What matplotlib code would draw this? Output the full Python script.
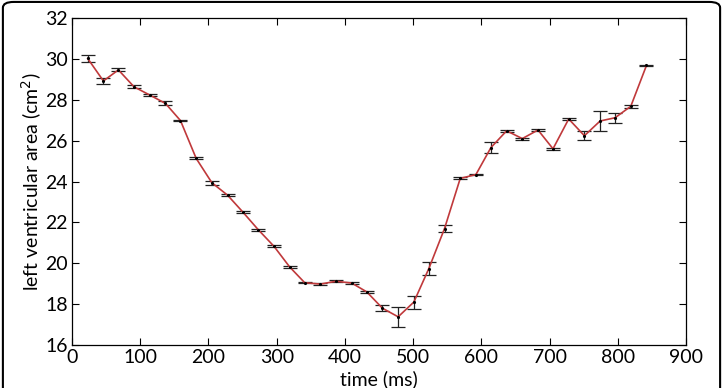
import matplotlib.pyplot as plt
from matplotlib.patches import FancyBboxPatch

# =========================
# Data
# =========================
time_ms = [23, 46, 68, 91, 114, 137, 159, 182, 205, 228, 250, 273, 296,
           319, 341, 364, 387, 410, 432, 455, 478, 501, 523, 546, 569,
           592, 614, 637, 660, 683, 705, 728, 751, 774, 796, 819, 842]
area = [30.02, 28.92, 29.46, 28.63, 28.23, 27.82, 26.98, 25.13, 23.94,
        23.33, 22.52, 21.64, 20.83, 19.82, 19.05, 18.98, 19.12, 19.03,
        18.6, 17.8, 17.38, 18.1, 19.74, 21.7, 24.15, 24.34, 25.66,
        26.48, 26.1, 26.52, 25.6, 27.06, 26.24, 26.96, 27.12, 27.68, 29.68]
err = [0.16, 0.15, 0.07, 0.07, 0.05, 0.1, 0.04, 0.05, 0.1, 0.05, 0.05,
       0.05, 0.05, 0.04, 0.04, 0.06, 0.04, 0.05, 0.06, 0.15, 0.5, 0.32,
       0.31, 0.15, 0.05, 0.04, 0.25, 0.04, 0.05, 0.04, 0.05, 0.04, 0.23,
       0.51, 0.25, 0.06, 0.02]

# =========================
# Plot
# =========================
plt.rcParams['font.family'] = ['Lato', 'DejaVu Sans']

fig = plt.figure(figsize=(7.23, 3.88), dpi=100)
ax = fig.add_axes([0.0996, 0.1108, 0.8493, 0.8428])

ax.errorbar(time_ms, area, yerr=err, fmt='none', ecolor='#222222',
            elinewidth=0.9, capsize=5, capthick=0.9, zorder=2)
ax.plot(time_ms, area, color='#c0393b', lw=1.2, zorder=3)
ax.plot(time_ms, area, 'k.', ms=2.5, zorder=4)

ax.set_xlim(0, 900)
ax.set_ylim(16, 32)
ax.set_xticks(range(0, 901, 100))
ax.set_yticks(range(16, 33, 2))
ax.tick_params(direction='in', labelsize=14, length=5, width=0.8,
               top=True, right=True, pad=3)
for s in ax.spines.values():
    s.set_linewidth(0.9)

ax.set_xlabel("time (ms)", fontsize=14, labelpad=3)
ax.set_ylabel("left ventricular area (cm$^2$)", fontsize=14, labelpad=1)

# rounded frame round the whole figure
frame = FancyBboxPatch((0.004, -0.05), 0.992, 1.045,
                       boxstyle="round,pad=0,rounding_size=0.015",
                       transform=fig.transFigure, fill=False,
                       ec='black', lw=1.5, clip_on=False)
fig.patches.append(frame)

fig.savefig("out.png", dpi=100)
